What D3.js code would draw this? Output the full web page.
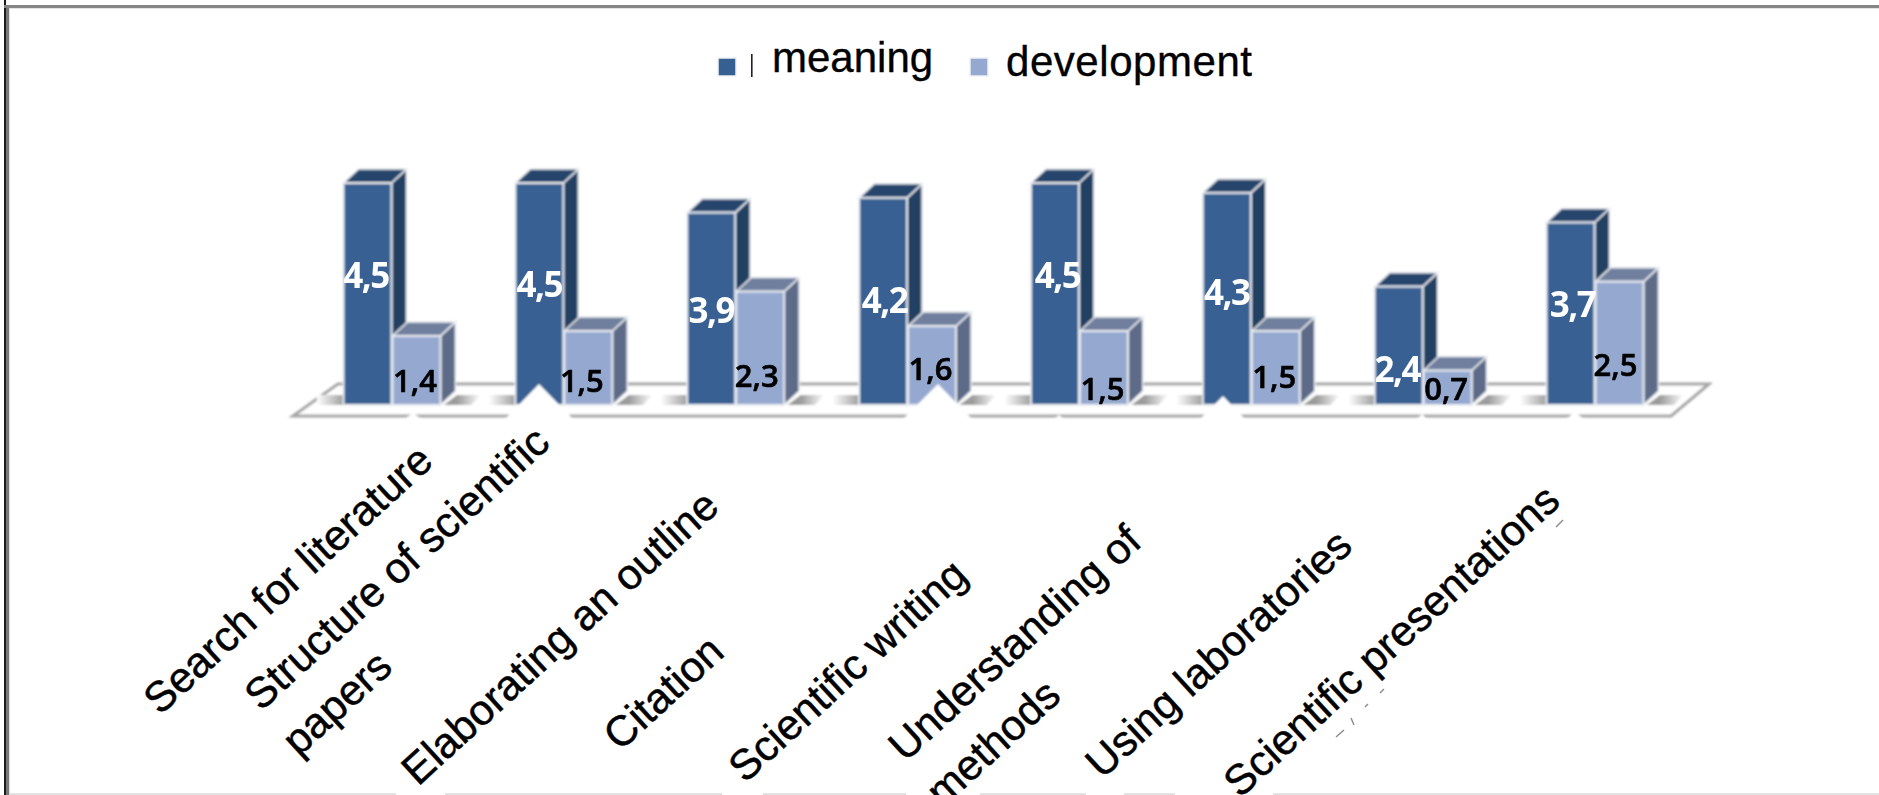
<!DOCTYPE html>
<html>
<head>
<meta charset="utf-8">
<script src="https://cdn.jsdelivr.net/npm/d3@7"></script>
<style>
  html, body { margin: 0; padding: 0; background: #fff; overflow: hidden; }
  svg { display: block; }
</style>
</head>
<body>
<script>
// Skills survey: perceived meaning vs. development of each academic skill
const categories = [
  ["Search for literature"],
  ["Structure of scientific", "papers"],
  ["Elaborating an outline"],
  ["Citation"],
  ["Scientific writing"],
  ["Understanding of", "methods"],
  ["Using laboratories"],
  ["Scientific presentations"]
];
const seriesNames = ["meaning", "development"];
const meaning = [4.5, 4.5, 3.9, 4.2, 4.5, 4.3, 2.4, 3.7];
const development = [1.4, 1.5, 2.3, 1.6, 1.5, 1.5, 0.7, 2.5];

// Where each value label sits inside its bar, in value units, plus a sideways nudge in px
const meaningLabelAt = [2.37, 2.19, 1.66, 1.86, 2.37, 2.03, 0.47, 1.78];
const developmentLabelAt = [0.26, 0.26, 0.36, 0.51, 0.10, 0.34, 0.10, 0.59];
const meaningLabelNudge = [-1.5, 0, 0, 1.5, 2.5, 0, -1.5, 2];
const developmentLabelNudge = [-1.5, -6.5, -3.5, -1.5, -1.5, -1.5, -1.5, -4];

// Baseline start of each slanted category label
const categoryLabelStart = [
  [160, 716], [261, 712], [418, 787], [620, 752],
  [745, 784], [905, 763], [1102, 780], [1240, 799]
];

const W = 1879, H = 795;
const baseY = 405, depthX = 15, depthY = 14;

const colors = {
  meaning: { front: "#376092", side: "#243f62", top: "#27456c", text: "#ffffff" },
  development: { front: "#95a9d0", side: "#5d6b88", top: "#6f7f9e", text: "#000000" }
};

const svg = d3.select("body").append("svg").attr("width", W).attr("height", H);
const defs = svg.append("defs");

const soft = id => defs.append("filter").attr("id", id).attr("x", "-5%").attr("y", "-5%")
  .attr("width", "110%").attr("height", "110%").append("feGaussianBlur");
soft("soft").attr("stdDeviation", 0.8);
soft("softText").attr("stdDeviation", 0.4);

const fadeRight = defs.append("linearGradient").attr("id", "fadeRight");
fadeRight.append("stop").attr("offset", "0").attr("stop-color", "#979797");
fadeRight.append("stop").attr("offset", "0.35").attr("stop-color", "#9c9c9c");
fadeRight.append("stop").attr("offset", "1").attr("stop-color", "#ffffff");
const fadeLeft = defs.append("linearGradient").attr("id", "fadeLeft");
fadeLeft.append("stop").attr("offset", "0").attr("stop-color", "#ffffff");
fadeLeft.append("stop").attr("offset", "1").attr("stop-color", "#a0a0a0");

const x = d3.scaleBand().domain(d3.range(categories.length))
  .range([343, 1644]).paddingInner(0.43).paddingOuter(0);
const inner = d3.scaleBand().domain(seriesNames).range([0, x.bandwidth()]);
const y = d3.scaleLinear().domain([0, 4.5]).range([baseY, 183]);

// Window frame
svg.append("rect").attr("x", 4).attr("y", 0).attr("width", 2).attr("height", H).attr("fill", "#1a1a1a");
svg.append("rect").attr("x", 6).attr("y", 5).attr("width", 3).attr("height", H - 5).attr("fill", "#777");
svg.append("rect").attr("x", 9).attr("y", 8).attr("width", 1).attr("height", H - 8).attr("fill", "#ddd");
svg.append("rect").attr("x", 4).attr("y", 5).attr("width", W - 4).attr("height", 3).attr("fill", "#858585");
svg.append("rect").attr("x", 9).attr("y", 8).attr("width", W - 9).attr("height", 1).attr("fill", "#e4e4e4");

const bottomRule = [[10, 396], [445, 722], [763, 906], [980, 1086], [1124, 1175], [1273, 1879]];
svg.append("g").selectAll("line").data(bottomRule).join("line")
  .attr("x1", d => d[0]).attr("x2", d => d[1]).attr("y1", 794).attr("y2", 794)
  .attr("stroke", "#e2e2e2").attr("stroke-width", 2);

const chart = svg.append("g").attr("filter", "url(#soft)");

// Floor plate
chart.append("path")
  .attr("d", "M293,416 L338,384 L1709,384 L1671,416 Z")
  .attr("fill", "#ffffff").attr("stroke", "#a6a6a6").attr("stroke-width", 3)
  .attr("stroke-linejoin", "miter");

// Floor shadows either side of each group
const shadows = chart.append("g");
shadows.selectAll("polygon").data(d3.range(categories.length)).join("polygon")
  .attr("points", i => {
    const r = x(i) + x.bandwidth();
    return [[r + 3, 405], [r + 16, 395], [r + 40, 395], [r + 30, 405]].join(" ");
  })
  .attr("fill", "url(#fadeRight)");
shadows.selectAll("rect").data(d3.range(categories.length)).join("rect")
  .attr("x", i => x(i) - 26).attr("y", 395)
  .attr("width", 26).attr("height", 10).attr("fill", "url(#fadeLeft)");

// Extruded bars: side and top faces first, front face last
function drawBar(g, x0, w, value, c) {
  const top = y(value);
  g.append("polygon")
    .attr("points", [[x0 + w, top], [x0 + w + depthX, top - depthY], [x0 + w + depthX, baseY - depthY], [x0 + w, baseY]].join(" "))
    .attr("fill", c.side).attr("stroke", "#e8ebf0").attr("stroke-width", 1.6);
  g.append("polygon")
    .attr("points", [[x0, top], [x0 + depthX, top - depthY], [x0 + w + depthX, top - depthY], [x0 + w, top]].join(" "))
    .attr("fill", c.top).attr("stroke", "#e8ebf0").attr("stroke-width", 1.6);
  g.append("rect")
    .attr("x", x0).attr("y", top).attr("width", w).attr("height", baseY - top)
    .attr("fill", c.front).attr("stroke", "#e8ebf0").attr("stroke-width", 2);
}

const barW = inner.bandwidth() - 1;
categories.forEach((_, i) => {
  const g = chart.append("g");
  drawBar(g, x(i) + inner("meaning") + 0.5, barW, meaning[i], colors.meaning);
  drawBar(g, x(i) + inner("development") + 0.5, barW, development[i], colors.development);
});

// White wedges left under the slanted labels
const wedges = [
  [[505, 419], [539, 384], [573, 419]],
  [[403, 420], [413, 413], [423, 420]],
  [[903, 419], [938, 384], [972, 419]],
  [[1053, 420], [1059, 415], [1065, 420]],
  [[1200, 419], [1223, 396], [1245, 419]],
  [[1416, 420], [1422, 414], [1428, 420]],
  [[1565, 420], [1575, 412], [1585, 420]]
];
chart.append("g").selectAll("polygon").data(wedges).join("polygon")
  .attr("points", d => d.join(" ")).attr("fill", "#ffffff");

// Value labels
const valueFmt = v => v.toFixed(1).replace(".", ",");
const valueLabels = svg.append("g").attr("filter", "url(#softText)")
  .attr("font-family", "'Open Sans', sans-serif").attr("text-anchor", "middle");
valueLabels.selectAll("text.m").data(meaning).join("text")
  .attr("class", "m")
  .attr("x", (d, i) => x(i) + inner("meaning") + inner.bandwidth() / 2 + meaningLabelNudge[i])
  .attr("y", (d, i) => y(meaningLabelAt[i]))
  .attr("font-size", 35).attr("font-weight", 700).attr("letter-spacing", -1.5).attr("fill", colors.meaning.text)
  .text(valueFmt);
valueLabels.selectAll("text.d").data(development).join("text")
  .attr("class", "d")
  .attr("x", (d, i) => x(i) + inner("development") + inner.bandwidth() / 2 + developmentLabelNudge[i])
  .attr("y", (d, i) => y(developmentLabelAt[i]))
  .attr("font-size", 31).attr("font-weight", 600)
  .attr("fill", colors.development.text).attr("stroke", colors.development.text).attr("stroke-width", 0.6)
  .text(valueFmt);

// Legend
const labelFont = "'Liberation Sans', Arial, sans-serif";
const legend = svg.append("g").attr("font-family", labelFont).attr("font-size", 42)
  .attr("fill", "#000").attr("stroke", "#000").attr("stroke-width", 0.35);
legend.append("rect").attr("x", 718).attr("y", 58).attr("width", 18).attr("height", 18)
  .attr("fill", colors.meaning.front).attr("stroke", "#eef1f5").attr("stroke-width", 1.5);
legend.append("rect").attr("x", 751).attr("y", 54).attr("width", 1.6).attr("height", 23).attr("fill", "#222").attr("stroke", "none");
legend.append("text").attr("x", 772).attr("y", 72).text(seriesNames[0]);
legend.append("rect").attr("x", 970).attr("y", 58).attr("width", 18).attr("height", 18)
  .attr("fill", colors.development.front).attr("stroke", "#eef1f5").attr("stroke-width", 1.5);
legend.append("text").attr("x", 1006).attr("y", 76).attr("textLength", 246).text(seriesNames[1]);

// Slanted category labels, multi-line entries stay flush left
const catLabels = svg.append("g").attr("font-family", labelFont).attr("font-size", 42.5)
  .attr("fill", "#000").attr("stroke", "#000").attr("stroke-width", 0.5);
catLabels.selectAll("text").data(categories).join("text")
  .attr("transform", (d, i) => `translate(${categoryLabelStart[i]}) rotate(-42.5)`)
  .each(function (lines) {
    d3.select(this).selectAll("tspan").data(lines).join("tspan")
      .attr("x", (d, j) => j ? -3 : 0).attr("dy", (d, j) => j ? 59 : 0).text(d => d);
  });

// Faint specks along the last label
svg.append("g").attr("stroke", "#8a8a8a").attr("fill", "none").attr("stroke-width", 1.4)
  .selectAll("path").data(["M1336,737 L1344,730", "M1351,718 L1354,725", "M1365,707 L1368,704", "M1380,693 L1384,689", "M1556,527 L1563,520"])
  .join("path").attr("d", d => d);
</script>
</body>
</html>
